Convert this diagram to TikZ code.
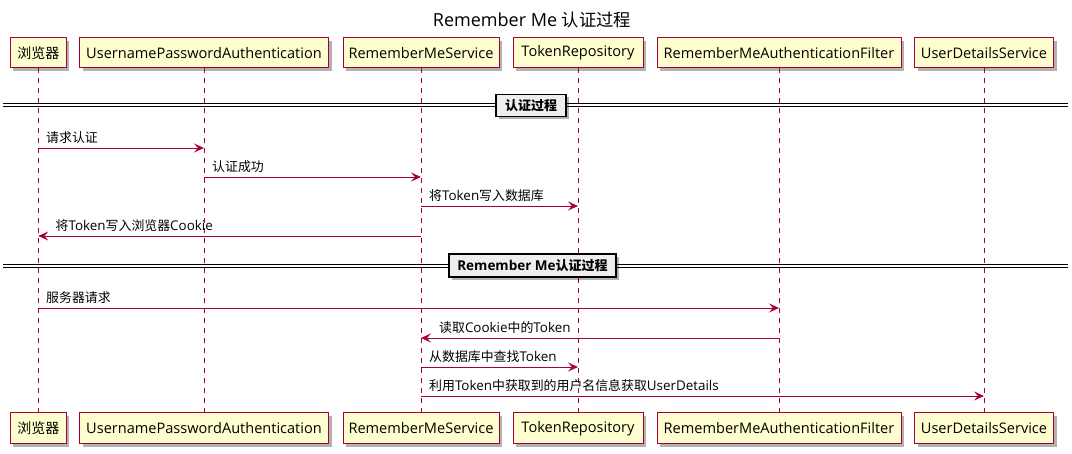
\documentclass[tikz,border=0pt]{standalone}
\usepackage{fontspec}
\setmainfont{Open Sans}[Scale=1.04]
\newfontfamily\zh{Noto Sans CJK SC}
\usetikzlibrary{arrows.meta,shadows}
\definecolor{pborder}{HTML}{A80036}
\definecolor{pfill}{HTML}{FEFECE}
\definecolor{divfill}{HTML}{EEEEEE}
\begin{document}
\begin{tikzpicture}[x=1pt,y=-1pt,
  part/.style={draw=pborder, fill=pfill, line width=1pt, minimum height=30pt, inner sep=0pt,
    font=\fontsize{14}{16}\selectfont,
    drop shadow={shadow xshift=3pt, shadow yshift=-3pt, opacity=0.3, fill=black}},
  life/.style={draw=pborder, dash pattern=on 5pt off 5pt, line width=0.8pt},
  msg/.style={draw=pborder, line width=0.9pt, -{Stealth[length=10pt,width=9pt,inset=4pt]}},
  lbl/.style={anchor=base west, inner sep=0pt, font=\fontsize{12.9}{14}\selectfont},
  divbox/.style={draw=black, fill=divfill, line width=1.3pt, inner sep=0pt,
    font=\bfseries\fontsize{13}{15}\selectfont,
    drop shadow={shadow xshift=3pt, shadow yshift=-3pt, opacity=0.3, fill=black}},
  divline/.style={draw=black, line width=0.9pt}]
\useasboundingbox (0,0) rectangle (1072,454);
% title
\node[font=\fontsize{17.3}{20}\selectfont] (title) at (532,20) {Remember Me {\zh 认证过程}};
% participants
\foreach \n/\x/\w/\t in {1/38.3/56/{\zh 浏览器}, 2/204/249/UsernamePasswordAuthentication,
  3/421/156/RememberMeService, 4/578/130/TokenRepository,
  5/779/244/RememberMeAuthenticationFilter, 6/984/139/UserDetailsService}{
  \node[part, minimum width=\w pt] (p\n t) at (\x,53) {\t};
  \node[part, minimum width=\w pt, minimum height=31pt] (p\n b) at (\x,428.5) {\t};
  \draw[life] (p\n t) -- (p\n b);
}
% divider 1
\draw[divline] (3,103.5) -- (1068,103.5);
\draw[divline] (3,106.5) -- (1068,106.5);
\node[divbox, minimum width=70pt, minimum height=22pt] (d1) at (531,105.5) {\zh 认证过程};
% messages
\draw[msg] (p1t |- 0,148) -- (p2t |- 0,148);
\node[lbl] (m1) at (46,143) {\zh 请求认证};
\draw[msg] (p2t |- 0,177) -- (p3t |- 0,177);
\node[lbl] (m2) at (212,172) {\zh 认证成功};
\draw[msg] (p3t |- 0,206) -- (p4t |- 0,206);
\node[lbl] (m3) at (429,201) {{\zh 将}Token{\zh 写入数据库}};
\draw[msg] (p3t |- 0,236) -- (p1t |- 0,236);
\node[lbl] (m4) at (55.5,231) {{\zh 将}Token{\zh 写入浏览器}Cookie};
% divider 2
\draw[divline] (3,264) -- (1068,264);
\draw[divline] (3,267) -- (1068,267);
\node[divbox, minimum width=167pt, minimum height=23pt] (d2) at (532.5,265.5) {Remember Me{\zh 认证过程}};
\draw[msg] (p1t |- 0,308) -- (p5t |- 0,308);
\node[lbl] (m5) at (46,303) {\zh 服务器请求};
\draw[msg] (p5t |- 0,338) -- (p3t |- 0,338);
\node[lbl] (m6) at (439,333) {{\zh 读取}Cookie{\zh 中的}Token};
\draw[msg] (p3t |- 0,367) -- (p4t |- 0,367);
\node[lbl] (m7) at (429,362) {{\zh 从数据库中查找}Token};
\draw[msg] (p3t |- 0,396) -- (p6t |- 0,396);
\node[lbl] (m8) at (429,391) {{\zh 利用}Token{\zh 中获取到的用户名信息获取}UserDetails};
\end{tikzpicture}
\end{document}
